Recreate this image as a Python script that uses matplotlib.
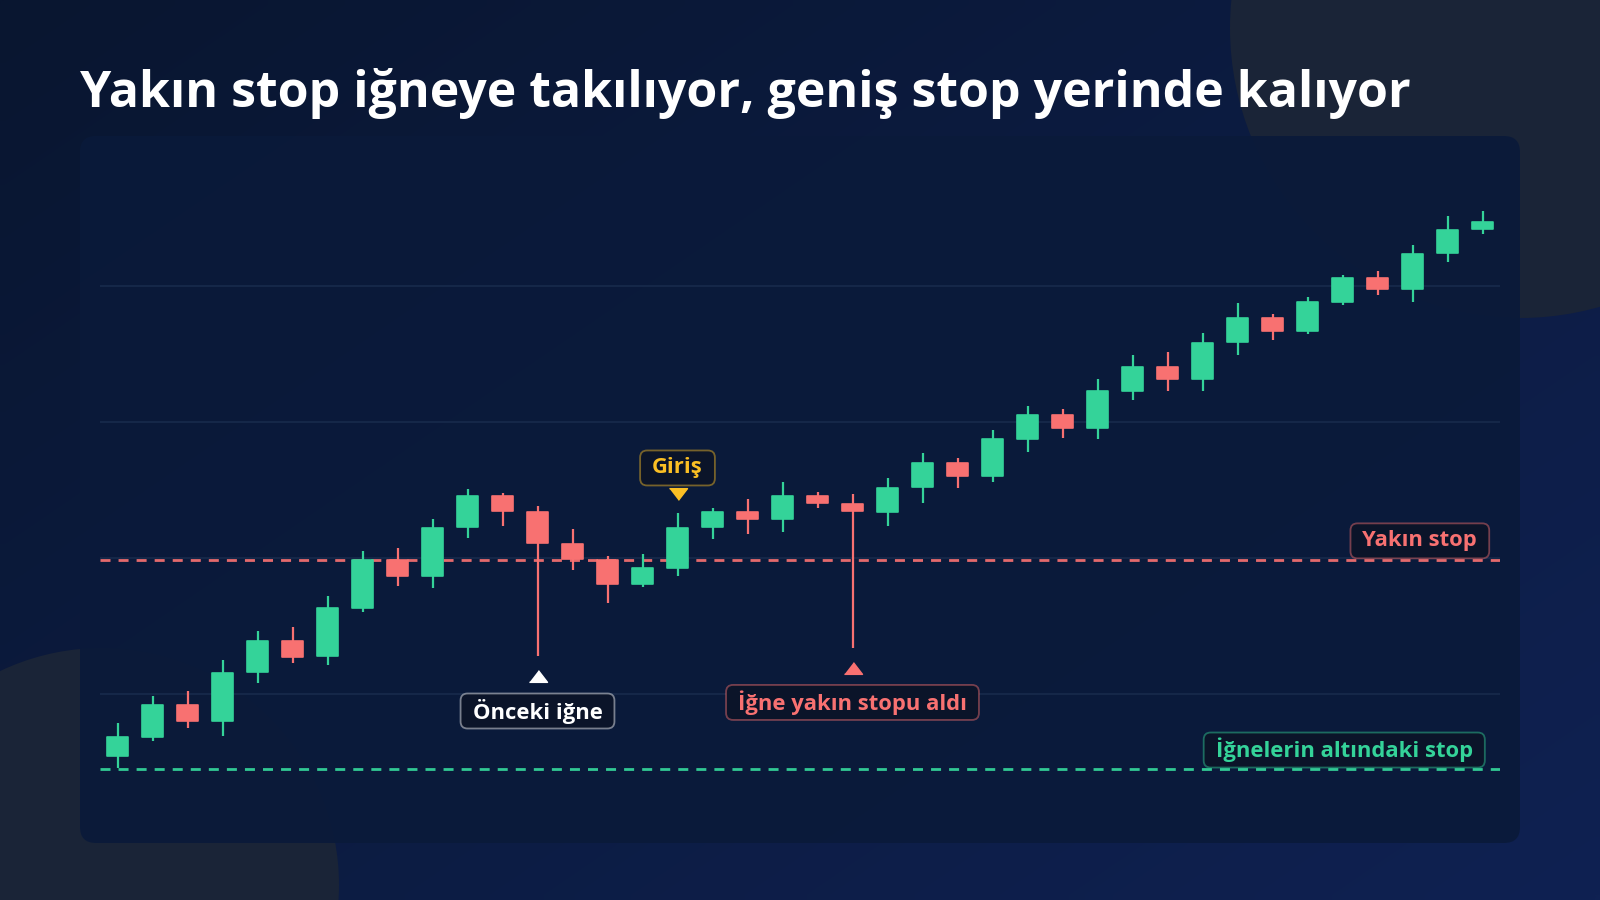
import numpy as np
import matplotlib
matplotlib.use("Agg")
import matplotlib.pyplot as plt
from matplotlib.patches import FancyBboxPatch, Circle
from matplotlib.colors import to_rgb, to_rgba
from matplotlib.transforms import IdentityTransform

plt.rcParams['font.family'] = ['Open Sans', 'DejaVu Sans']

# ---------------- data ----------------
title = "Yakın stop iğneye takılıyor, geniş stop yerinde kalıyor"

opens = [97.72, 98.43, 99.60, 99.02, 100.80, 101.96, 101.40, 103.17, 104.93, 104.35,
         106.13, 107.28, 106.70, 105.50, 104.93, 104.04, 104.64, 106.13, 106.70, 106.42,
         107.29, 106.99, 106.70, 107.60, 108.48, 108.01, 109.38, 110.26, 109.79, 111.15,
         112.03, 111.58, 112.93, 113.81, 113.35, 114.40, 115.28, 114.89, 116.20, 117.08]
closes = [98.41, 99.60, 99.02, 100.78, 101.96, 101.37, 103.15, 104.93, 104.35, 106.10,
          107.28, 106.73, 105.54, 104.95, 104.04, 104.62, 106.11, 106.70, 106.42, 107.29,
          107.01, 106.72, 107.58, 108.48, 108.01, 109.36, 110.26, 109.79, 111.14, 112.03,
          111.57, 112.92, 113.81, 113.35, 114.40, 115.28, 114.88, 116.18, 117.06, 117.36]
highs = [98.92, 99.93, 100.12, 101.25, 102.32, 102.47, 103.60, 105.26, 105.36, 106.43,
         107.53, 107.40, 106.92, 106.07, 105.08, 105.14, 106.67, 106.83, 107.17, 107.81,
         107.44, 107.35, 107.95, 108.85, 108.67, 109.71, 110.60, 110.48, 111.58, 112.45,
         112.56, 113.26, 114.36, 113.97, 114.58, 115.40, 115.56, 116.51, 117.57, 117.77]
lows = [97.27, 98.28, 98.74, 98.46, 100.39, 101.15, 101.07, 103.00, 103.97, 103.89,
        105.75, 106.19, 101.40, 104.56, 103.33, 103.92, 104.35, 105.70, 105.87, 105.97,
        106.83, 101.68, 106.19, 107.03, 107.58, 107.81, 108.91, 109.40, 109.36, 110.81,
        111.15, 111.14, 112.46, 113.01, 113.22, 114.30, 114.67, 114.40, 115.89, 116.91]

near_stop = 104.94
wide_stop = 97.24
grid_levels = [100, 105, 110, 115]

prev_wick_idx = 12
entry_idx = 16
hit_wick_idx = 21

label_prev = "Önceki iğne"
label_entry = "Giriş"
label_hit = "İğne yakın stopu aldı"
label_near = "Yakın stop"
label_wide = "İğnelerin altındaki stop"

# ---------------- colours ----------------
GREEN = '#34d399'
RED = '#f87171'
GOLD = '#fbbf24'
WHITE = '#ffffff'
GRID = '#17294a'

W, H = 1600, 900
fig = plt.figure(figsize=(16, 9), dpi=100)

# background layer
bg = fig.add_axes([0, 0, 1, 1], zorder=0)
bg.set_xlim(0, W)
bg.set_ylim(H, 0)
bg.axis('off')
c1 = np.array(to_rgb('#091630'))
c2 = np.array(to_rgb('#0f2152'))
yy, xx = np.mgrid[0:1:90j, 0:1:160j]
tt = np.clip(xx * 0.55 + yy * 0.45, 0, 1)
img = c1 + (c2 - c1) * tt[..., None]
bg.imshow(img, extent=[0, W, H, 0], aspect='auto', interpolation='bilinear', zorder=0)
bg.add_patch(Circle((1520, 28), 290, color='#1a2437', zorder=1, lw=0))
bg.add_patch(Circle((102, 885), 237, color='#1a2437', zorder=1, lw=0))
bg.add_patch(FancyBboxPatch((80, 136), 1440, 707,
                            boxstyle='round,pad=0,rounding_size=16',
                            fc='#0a1a3a', ec='none', alpha=0.93, zorder=2))
bg.text(80, 107, title, fontsize=36, fontweight='bold', color='white',
        va='baseline', ha='left', zorder=3)

# main chart
ax = fig.add_axes([100 / W, (H - 843) / H, 1400 / W, 707 / H], zorder=1)
ax.set_facecolor('none')
ax.axis('off')
ax.set_xlim(-0.5, 39.5)
ax.set_ylim(94.522, 120.515)

for g in grid_levels:
    ax.axhline(g, color=GRID, lw=1.3, zorder=1)

ax.axhline(near_stop, color=RED, lw=2, ls=(0, (3.6, 2.9)), zorder=3, alpha=0.92)
ax.axhline(wide_stop, color=GREEN, lw=2, ls=(0, (3.6, 2.9)), zorder=3, alpha=0.95)

o = np.array(opens); c = np.array(closes); hi = np.array(highs); lo = np.array(lows)
x = np.arange(len(o))
cols = [GREEN if cc >= oo else RED for oo, cc in zip(o, c)]
ax.vlines(x, lo, hi, colors=cols, lw=1.6, zorder=4)
ax.bar(x, np.abs(c - o), bottom=np.minimum(o, c), width=0.58, color=cols,
       edgecolor=cols, linewidth=1.2, joinstyle='round', zorder=5)

# markers
up_tri = [(-1, -0.65), (1, -0.65), (0, 0.65)]
dn_tri = [(-1, 0.65), (1, 0.65), (0, -0.65)]
ax.plot([prev_wick_idx], [100.66], marker=up_tri, ms=13, color=WHITE, ls='none', zorder=6)
ax.plot([hit_wick_idx], [100.96], marker=up_tri, ms=13, color=RED, ls='none', zorder=6)
ax.plot([entry_idx], [107.35], marker=dn_tri, ms=13, color=GOLD, ls='none', zorder=6)

# labels with boxes
labels = [
    (label_prev, prev_wick_idx, 99.375, WHITE),
    (label_hit, hit_wick_idx, 99.69, RED),
    (label_entry, entry_idx, 108.31, GOLD),
    (label_near, 37.21, 105.63, RED),
    (label_wide, 35.05, 97.94, GREEN),
]
texts = []
for s, lx, ly, col in labels:
    t = ax.text(lx, ly, s, color=col, fontsize=15.8, fontweight='bold',
                ha='center', va='center', zorder=7)
    texts.append((t, col))

fig.canvas.draw()
renderer = fig.canvas.get_renderer()
padx, boxh = 12, 35
for t, col in texts:
    bb = t.get_window_extent(renderer)
    cy = (bb.y0 + bb.y1) / 2
    patch = FancyBboxPatch((bb.x0 - padx, cy - boxh / 2), bb.width + 2 * padx, boxh,
                           boxstyle='round,pad=0,rounding_size=7',
                           fc='#0b1429', ec=to_rgba(col, 0.45), lw=1.3,
                           transform=IdentityTransform(), zorder=2.5, clip_on=False)
    ax.add_patch(patch)

fig.savefig('out.png', dpi=100, facecolor=fig.get_facecolor())
